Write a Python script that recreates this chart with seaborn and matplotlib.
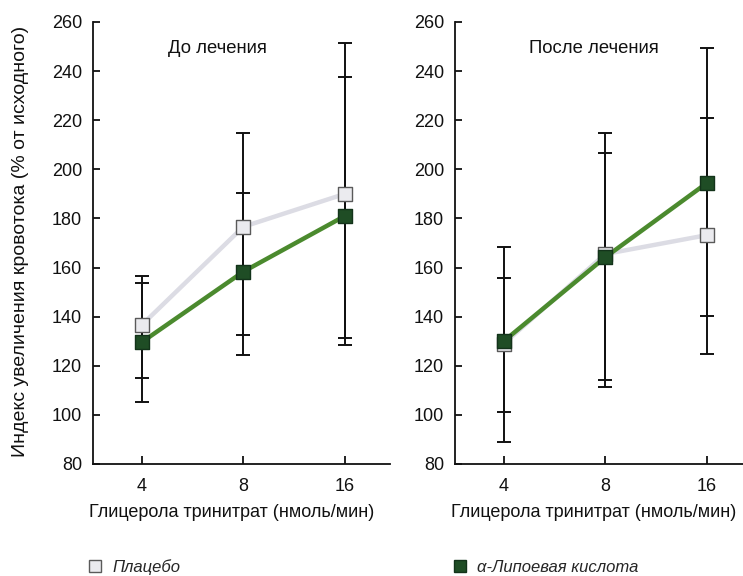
import matplotlib
matplotlib.use("Agg")
import matplotlib.pyplot as plt
import seaborn as sns
from matplotlib.lines import Line2D

# ---------------- data ----------------
doses = ["4", "8", "16"]
panel_titles = ["До лечения", "После лечения"]
series_names = ["Плацебо", "α-Липоевая кислота"]
x_label = "Глицерола тринитрат (нмоль/мин)"
y_label = "Индекс увеличения кровотока (% от исходного)"
y_ticks = [80, 100, 120, 140, 160, 180, 200, 220, 240, 260]

# before treatment
placebo_before = [136.6, 176.6, 190.0]
placebo_before_low = [115.1, 132.5, 128.5]
placebo_before_high = [156.5, 214.9, 251.5]
ala_before = [129.6, 158.3, 181.0]
ala_before_low = [105.4, 124.4, 131.2]
ala_before_high = [153.6, 190.2, 237.7]

# after treatment
placebo_after = [129.0, 165.5, 173.2]
placebo_after_low = [89.1, 114.2, 124.8]
placebo_after_high = [168.5, 215.0, 220.8]
ala_after = [130.0, 164.2, 194.4]
ala_after_low = [101.3, 111.5, 140.3]
ala_after_high = [155.9, 206.8, 249.5]

# ---------------- style ----------------
sns.set_style("ticks")
plt.rcParams["font.family"] = ["Liberation Sans", "DejaVu Sans"]

placebo_line = "#dcdce4"
placebo_face = "#ebebef"
placebo_edge = "#5a5a5a"
ala_line = "#4b8a2e"
ala_face = "#1f4d25"
ala_edge = "#13331a"

fig = plt.figure(figsize=(7.43, 5.76), dpi=100)
ax_w = 297 / 743
ax_h = 442 / 576
ax_b = 1 - 464 / 576
axes = [fig.add_axes([93 / 743, ax_b, ax_w, ax_h]),
        fig.add_axes([455 / 743, ax_b, ax_w, ax_h])]

panels = [
    [(placebo_before, placebo_before_low, placebo_before_high),
     (ala_before, ala_before_low, ala_before_high)],
    [(placebo_after, placebo_after_low, placebo_after_high),
     (ala_after, ala_after_low, ala_after_high)],
]
styles = [(placebo_line, placebo_face, placebo_edge),
          (ala_line, ala_face, ala_edge)]
title_pos = [0.42, 0.468]

for ax, pdata, title, tx in zip(axes, panels, panel_titles, title_pos):
    for (vals, lo, hi), (lc, fc, ec) in zip(pdata, styles):
        sns.lineplot(x=doses, y=vals, ax=ax, color=lc, lw=3.2, sort=False,
                     zorder=2, legend=False)
    for (vals, lo, hi), (lc, fc, ec) in zip(pdata, styles):
        yerr = [[v - l for v, l in zip(vals, lo)], [h - v for v, h in zip(vals, hi)]]
        ax.errorbar(doses, vals, yerr=yerr, fmt="none", ecolor="#111111",
                    elinewidth=1.4, capsize=5, capthick=1.4, zorder=3)
    for (vals, lo, hi), (lc, fc, ec) in zip(pdata, styles):
        sns.scatterplot(x=doses, y=vals, ax=ax, marker="s", s=95, color=fc,
                        edgecolor=ec, linewidth=1.0, zorder=4, legend=False)

    ax.set_xlim(-0.48, 2.445)
    ax.set_ylim(80, 260)
    ax.set_yticks(y_ticks)
    sns.despine(ax=ax)
    for side in ("left", "bottom"):
        ax.spines[side].set_linewidth(1.3)
        ax.spines[side].set_color("#111111")
    ax.tick_params(axis="y", direction="in", length=5, width=1.3,
                   labelsize=13, pad=8, colors="#111111")
    ax.tick_params(axis="x", direction="in", length=6, width=1.3,
                   labelsize=13, pad=10, colors="#111111")
    ax.set_xlabel(x_label, fontsize=13.0, color="#111111")
    ax.xaxis.set_label_coords(0.466, -0.091)
    ax.set_ylabel("")
    ax.text(tx, 0.941, title, transform=ax.transAxes, ha="center",
            va="center", fontsize=13.3, color="#111111")

fig.text(21 / 743, 1 - 241 / 576, y_label, rotation=90, ha="center",
         va="center", fontsize=14, color="#111111")

# legend entries
h1 = Line2D([], [], ls="", marker="s", ms=8, mfc=placebo_face, mec=placebo_edge, mew=1.0)
h2 = Line2D([], [], ls="", marker="s", ms=8, mfc=ala_face, mec=ala_edge, mew=1.0)
leg_font = {"family": ["Liberation Sans Narrow", "Liberation Sans", "DejaVu Sans"],
            "style": "italic", "size": 12}
for h, name, xa in [(h1, series_names[0], 87), (h2, series_names[1], 452)]:
    fig.legend(handles=[h], labels=[name], loc="center left",
               bbox_to_anchor=(xa / 743, 1 - 567 / 576), frameon=False,
               handlelength=1.0, handletextpad=0.5, borderpad=0,
               borderaxespad=0, prop=leg_font)

fig.savefig("out.png", dpi=100)
